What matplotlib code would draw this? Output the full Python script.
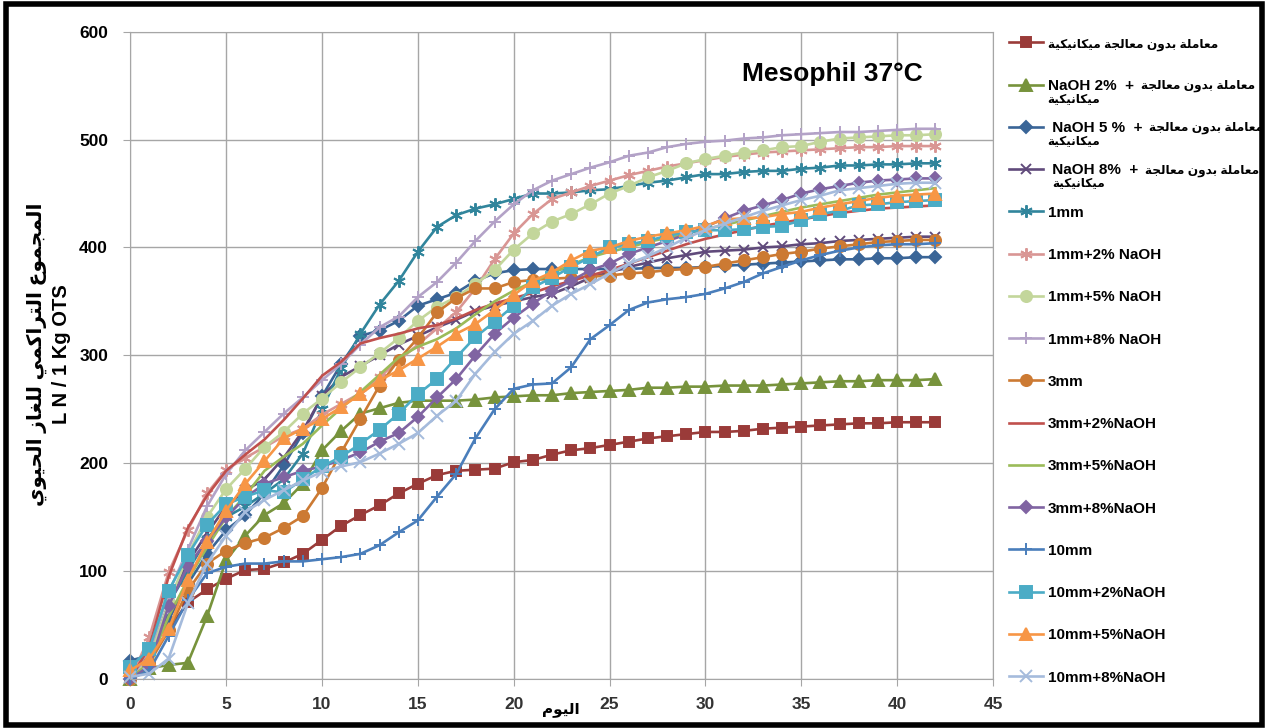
import matplotlib
matplotlib.use("Agg")

import matplotlib.pyplot as plt
from matplotlib.patches import Rectangle
import numpy as np

plt.rcParams["font.family"] = ["Liberation Sans", "DejaVu Sans"]
plt.rcParams["font.weight"] = "bold"

# minimal Arabic shaping: presentation forms (iso, fin, ini, med), then visual order
FORMS = {
    "ا": ("\uFE8D", "\uFE8E", None, None),
    "ب": ("\uFE8F", "\uFE90", "\uFE91", "\uFE92"),
    "ة": ("\uFE93", "\uFE94", None, None),
    "ت": ("\uFE95", "\uFE96", "\uFE97", "\uFE98"),
    "ج": ("\uFE9D", "\uFE9E", "\uFE9F", "\uFEA0"),
    "ح": ("\uFEA1", "\uFEA2", "\uFEA3", "\uFEA4"),
    "د": ("\uFEA9", "\uFEAA", None, None),
    "ر": ("\uFEAD", "\uFEAE", None, None),
    "ز": ("\uFEAF", "\uFEB0", None, None),
    "ع": ("\uFEC9", "\uFECA", "\uFECB", "\uFECC"),
    "غ": ("\uFECD", "\uFECE", "\uFECF", "\uFED0"),
    "ك": ("\uFED9", "\uFEDA", "\uFEDB", "\uFEDC"),
    "ل": ("\uFEDD", "\uFEDE", "\uFEDF", "\uFEE0"),
    "م": ("\uFEE1", "\uFEE2", "\uFEE3", "\uFEE4"),
    "ن": ("\uFEE5", "\uFEE6", "\uFEE7", "\uFEE8"),
    "و": ("\uFEED", "\uFEEE", None, None),
    "ي": ("\uFEF1", "\uFEF2", "\uFEF3", "\uFEF4"),
}


def ar(s):
    out = []
    for i, ch in enumerate(s):
        f = FORMS.get(ch)
        if f is None:
            out.append(ch)
            continue
        prev = s[i - 1] if i > 0 else ""
        nxt = s[i + 1] if i + 1 < len(s) else ""
        jp = prev in FORMS and FORMS[prev][2] is not None
        jn = f[2] is not None and nxt in FORMS
        idx = 3 if (jp and jn) else 1 if jp else 2 if jn else 0
        out.append(f[idx])
    return "".join(out)[::-1]


days = np.arange(43)

untreated = [0, 18, 46, 71, 83, 93, 101, 102, 108, 116, 129, 142, 152, 161, 172, 181, 189, 193, 194, 195,
             201, 203, 208, 212, 214, 217, 220, 223, 225, 227, 229, 229, 230, 232, 233, 234, 235, 236, 237,
             237, 238, 238, 238]
naoh2 = [0, 10, 13, 15, 58, 110, 133, 152, 163, 181, 212, 230, 246, 251, 256, 258, 258, 258, 259, 261,
         262, 263, 263, 265, 266, 267, 268, 270, 270, 271, 271, 272, 272, 272, 273, 274, 275, 276, 276,
         277, 277, 277, 278]
naoh5 = [17, 22, 55, 88, 116, 138, 152, 172, 198, 228, 262, 292, 318, 323, 332, 346, 352, 358, 369, 376,
         379, 380, 380, 380, 380, 380, 380, 381, 381, 381, 382, 383, 384, 385, 386, 387, 388, 389, 389,
         390, 390, 391, 391]
naoh8 = [0, 15, 70, 108, 135, 160, 175, 185, 205, 230, 262, 280, 290, 300, 310, 318, 326, 333, 341, 346,
         350, 354, 357, 364, 372, 377, 382, 386, 390, 393, 396, 397, 398, 400, 401, 403, 404, 406, 407,
         408, 409, 410, 410]
mm1 = [0, 20, 70, 100, 130, 150, 160, 172, 185, 209, 250, 288, 320, 347, 369, 396, 419, 430, 436, 440,
       445, 450, 450, 451, 453, 454, 457, 460, 462, 465, 468, 468, 470, 471, 471, 473, 474, 476, 476,
       477, 477, 478, 478]
mm1_2 = [0, 39, 99, 138, 172, 194, 205, 215, 225, 232, 245, 255, 265, 280, 295, 310, 325, 340, 362, 389,
         413, 431, 445, 451, 457, 462, 467, 471, 475, 478, 481, 484, 486, 488, 489, 490, 491, 492, 493,
         493, 494, 494, 494]
mm1_5 = [0, 20, 70, 115, 150, 176, 195, 215, 229, 246, 260, 275, 289, 302, 316, 332, 345, 354, 366, 379,
         398, 413, 424, 431, 440, 450, 457, 465, 471, 478, 482, 485, 488, 490, 493, 494, 498, 501, 502,
         503, 504, 504, 505]
mm1_8 = [0, 25, 80, 120, 160, 190, 212, 229, 246, 261, 277, 292, 310, 326, 336, 354, 368, 386, 406, 424,
         440, 453, 462, 468, 474, 479, 485, 488, 493, 496, 498, 499, 501, 502, 504, 505, 506, 507, 507,
         508, 509, 510, 510]
mm3 = [0, 15, 45, 82, 107, 119, 126, 131, 140, 151, 177, 210, 241, 272, 296, 316, 340, 353, 362, 362,
       368, 370, 371, 372, 373, 374, 376, 377, 379, 380, 382, 385, 388, 391, 394, 396, 399, 401, 403,
       405, 406, 407, 407]
mm3_2 = [0, 30, 95, 140, 170, 193, 208, 222, 240, 260, 281, 294, 311, 316, 320, 325, 328, 334, 342, 348,
         353, 358, 364, 369, 374, 379, 385, 391, 397, 403, 408, 412, 416, 420, 423, 426, 429, 432, 434,
         436, 437, 438, 439]
mm3_5 = [0, 15, 58, 92, 122, 150, 170, 193, 206, 218, 235, 251, 266, 282, 298, 308, 315, 325, 338, 350,
         360, 368, 376, 384, 391, 396, 400, 405, 409, 413, 417, 421, 425, 429, 433, 437, 440, 443, 446,
         449, 451, 453, 455]
mm3_8 = [0, 12, 68, 105, 128, 150, 168, 181, 187, 193, 197, 203, 210, 220, 228, 243, 261, 278, 300, 320,
         335, 348, 360, 369, 379, 385, 394, 400, 406, 412, 419, 427, 434, 439, 444, 450, 454, 457, 460,
         462, 463, 464, 464]
mm10 = [0, 8, 40, 73, 98, 104, 107, 107, 109, 109, 111, 113, 116, 124, 136, 147, 169, 190, 223, 250,
        269, 273, 274, 289, 315, 328, 342, 349, 352, 354, 357, 362, 368, 376, 382, 388, 393, 397, 400,
        402, 403, 403, 404]
mm10_2 = [11, 28, 82, 115, 143, 162, 169, 175, 173, 185, 197, 206, 218, 231, 246, 264, 278, 298, 317, 331,
          346, 363, 372, 382, 391, 400, 403, 406, 411, 414, 416, 416, 417, 419, 420, 425, 431, 434, 439,
          440, 442, 443, 444]
mm10_5 = [8, 19, 46, 92, 127, 156, 181, 202, 223, 232, 241, 252, 264, 277, 286, 297, 308, 320, 329, 342,
          356, 369, 377, 388, 397, 400, 406, 410, 413, 416, 420, 426, 427, 428, 431, 433, 437, 440, 443,
          446, 448, 449, 450]
mm10_8 = [2, 5, 19, 70, 107, 133, 155, 166, 175, 184, 192, 197, 201, 209, 218, 228, 244, 258, 283, 303,
          320, 332, 346, 357, 366, 376, 385, 392, 400, 409, 416, 422, 428, 434, 439, 444, 448, 453, 455,
          457, 459, 460, 460]

ar_base = ar("معاملة بدون معالجة")
ar_full = ar("معاملة بدون معالجة ميكانيكية")
ar_wrap = ar("ميكانيكية")
labels = [
    ar_full,
    "NaOH 2%  +",
    " NaOH 5 %  +",
    " NaOH 8%  +",
    "1mm", "1mm+2% NaOH", "1mm+5% NaOH", "1mm+8% NaOH",
    "3mm", "3mm+2%NaOH", "3mm+5%NaOH", "3mm+8%NaOH",
    "10mm", "10mm+2%NaOH", "10mm+5%NaOH", "10mm+8%NaOH",
]
series = [untreated, naoh2, naoh5, naoh8, mm1, mm1_2, mm1_5, mm1_8,
          mm3, mm3_2, mm3_5, mm3_8, mm10, mm10_2, mm10_5, mm10_8]
colors = ["#9a3b39", "#77933c", "#3a6597", "#604a7b", "#31859c", "#d99694", "#c3d69b", "#b3a2c7",
          "#cc7a33", "#c0504d", "#9bbb59", "#8064a2", "#4a7ebb", "#4bacc6", "#f79646", "#a5bbdc"]
ast = (6, 2, 0)
markers = ["s", "^", "D", "x", ast, ast, "o", "+", "o", None, None, "D", "+", "s", "^", "x"]
msizes = [7, 8, 6, 7, 9, 9, 8, 9, 8, 0, 0, 6, 9, 8, 8, 8]

fig = plt.figure(figsize=(12.66, 7.28), dpi=100)
ax = fig.add_axes([130.3 / 1266, 1 - 679 / 728, (993 - 130.3) / 1266, (679 - 31.7) / 728])

for vals, lab, col, mk, ms in zip(series, labels, colors, markers, msizes):
    ax.plot(days, vals, color=col, lw=1.9, marker=mk, markersize=ms, mec=col, mfc=col,
            mew=1.4, label=lab, clip_on=False)

ax.set_xlim(0, 45)
ax.set_ylim(0, 600)
ax.set_xticks(np.arange(0, 46, 5))
ax.set_yticks(np.arange(0, 601, 100))
ax.grid(True, color="#a6a6a6", lw=1.0)
ax.set_axisbelow(True)
for sp in ax.spines.values():
    sp.set_color("#a6a6a6")
ax.tick_params(axis="both", length=5, color="#a6a6a6", labelsize=12.5, pad=8)
ax.tick_params(axis="x", labelcolor="#333333")
ax.tick_params(axis="y", labelcolor="black", pad=11)
for t in ax.get_xticklabels() + ax.get_yticklabels():
    t.set_fontweight("bold")

fig.text(832 / 1266, 1 - 74 / 728, "Mesophil 37°C", fontsize=19, fontweight="bold",
         ha="center", va="center")
fig.text(561 / 1266, 1 - 710 / 728, ar("اليوم"), fontsize=11, fontweight="bold",
         ha="center", va="center")
fig.text(49 / 1266, 1 - 354 / 728, ar("المجموع التراكمي للغاز الحيوي") + "\nL N / 1 Kg OTS",
         rotation=90, fontsize=14.5, fontweight="bold", ha="center", va="center", linespacing=1.35)

leg = ax.legend(loc="upper left", bbox_to_anchor=(1001 / 1266, 1 - 29 / 728),
                bbox_transform=fig.transFigure, frameon=False, fontsize=11,
                handlelength=2.25, handletextpad=0.3, labelspacing=1.85, borderpad=0)
for t in leg.get_texts():
    t.set_fontweight("bold")

fig.canvas.draw()
W, H = fig.canvas.get_width_height()

# Arabic glyphs in DejaVu are wide: size the Arabic legend text to the reference width
probe = fig.text(0, 0, ar_full, fontsize=10, fontweight="bold")
w10 = probe.get_window_extent().width
probe.remove()
ar_size = 10 * 172 / w10
leg.get_texts()[0].set_fontsize(ar_size)
fig.canvas.draw()

for i in (1, 2, 3):
    bb = leg.get_texts()[i].get_window_extent()
    yc = (bb.y0 + bb.y1) / 2
    fig.text((bb.x1 + 7) / W, yc / H, ar_base, fontsize=ar_size, fontweight="bold",
             ha="left", va="center")
    fig.text((bb.x0 + (5 if i == 3 else 0)) / W, (bb.y0 - 1) / H, ar_wrap,
             fontsize=ar_size, fontweight="bold", ha="left", va="top")

fig.patches.append(Rectangle((0.005, 0.004), 0.992, 0.99, transform=fig.transFigure,
                             fill=False, lw=4, ec="black"))

fig.savefig("out.png", dpi=100)
